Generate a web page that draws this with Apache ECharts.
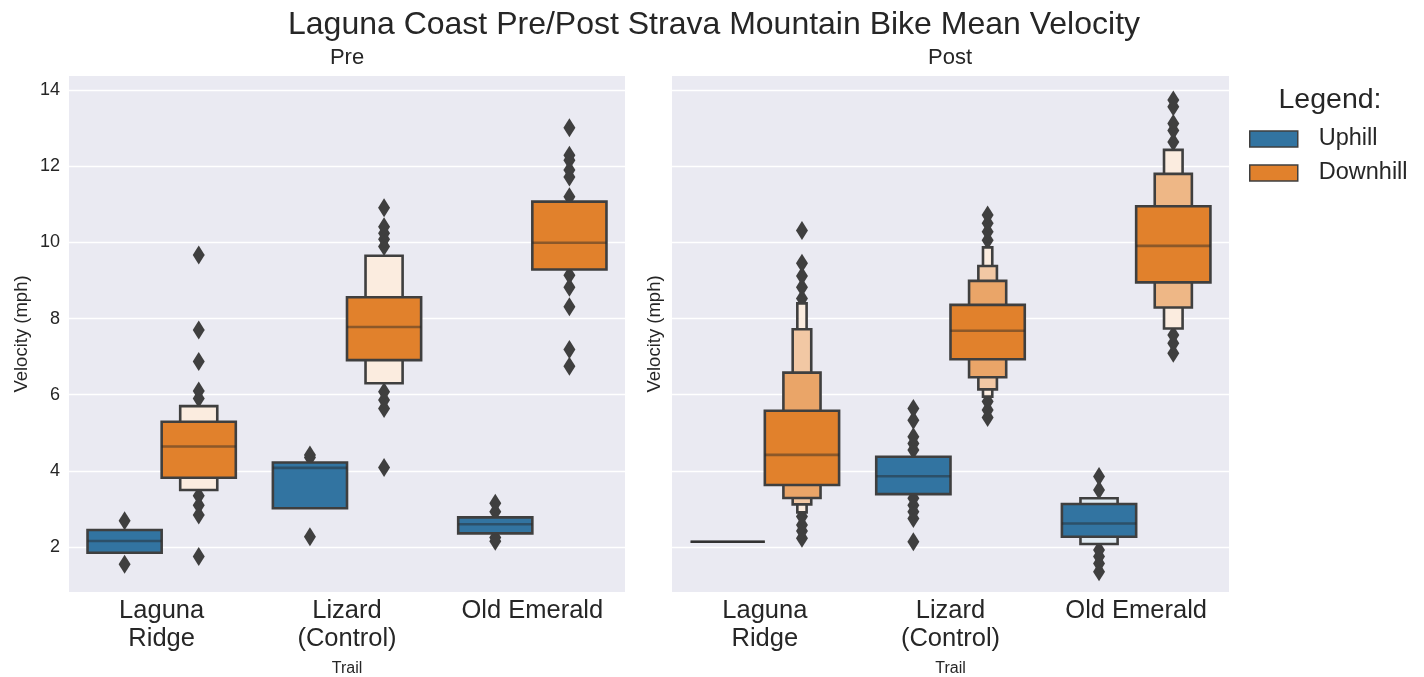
<!DOCTYPE html>
<html>
<head>
<meta charset="utf-8">
<script src="https://cdn.jsdelivr.net/npm/echarts@6/dist/echarts.min.js"></script>
<style>
  html, body { margin: 0; padding: 0; background: #fff; }
  #chart { width: 1424px; height: 677px; }
</style>
</head>
<body>
<div id="chart"></div>
<script>
const trails = ['Laguna\nRidge', 'Lizard\n(Control)', 'Old Emerald']
const hues = ['Uphill', 'Downhill']

// letter-value boxes per trail, innermost first: [low, high]
const preUphillBoxes = [
  [[1.85, 2.45]],
  [[3.02, 4.22]],
  [[2.36, 2.78]],
]
const preUphillMedians = [2.16, 4.08, 2.60]
const preUphillOutliers = [[1.55, 2.69], [2.27, 4.35, 4.42], [2.15, 2.25, 2.93, 3.15]]

const preDownhillBoxes = [
  [[3.82, 5.29], [3.50, 5.70]],
  [[6.91, 8.56], [6.30, 9.65]],
  [[9.29, 11.07]],
]
const preDownhillMedians = [4.64, 7.78, 9.99]
const preDownhillOutliers = [
  [1.75, 2.84, 3.10, 3.35, 5.90, 6.10, 6.87, 7.70, 9.67],
  [4.09, 5.64, 5.86, 6.08, 9.89, 10.08, 10.24, 10.41, 10.91],
  [6.75, 7.19, 8.31, 8.82, 9.14, 11.20, 11.72, 11.90, 12.16, 12.29, 13.01],
]

const postUphillBoxes = [
  [[2.14, 2.14]],
  [[3.39, 4.37]],
  [[2.27, 3.13], [2.08, 3.28]],
]
const postUphillMedians = [2.14, 3.86, 2.62]
const postUphillOutliers = [
  [],
  [2.14, 2.75, 2.93, 3.10, 3.28, 4.55, 4.72, 4.90, 5.33, 5.64],
  [1.35, 1.57, 1.75, 1.92, 3.50, 3.85],
]

const postDownhillBoxes = [
  [[3.63, 5.58], [3.29, 6.58], [3.12, 7.72], [2.91, 8.40]],
  [[6.93, 8.36], [6.46, 8.99], [6.14, 9.38], [5.95, 9.87]],
  [[8.95, 10.95], [8.29, 11.80], [7.74, 12.43]],
]
const postDownhillMedians = [4.42, 7.68, 9.91]
const postDownhillOutliers = [
  [2.23, 2.42, 2.58, 2.80, 8.53, 8.82, 9.12, 9.45, 10.31],
  [5.40, 5.60, 5.82, 10.06, 10.28, 10.50, 10.72],
  [7.09, 7.35, 7.57, 12.64, 12.94, 13.12, 13.56, 13.74],
]

const FONT = '"Liberation Sans", Arial, sans-serif'
const TEXT = '#262626'
const GRAY = '#3f3f3f'
const hueColors = [[50, 116, 161], [225, 129, 44]]

// lighter shade for outer letter-value boxes
function levelColor(rgb, level, n) {
  const t = n > 1 ? (0.85 * level) / (n - 1) : 0
  const c = rgb.map((v) => Math.round(v + (255 - v) * t))
  return `rgb(${c[0]},${c[1]},${c[2]})`
}

function hueShift(hue) {
  return hue === 0 ? -0.2 : 0.2
}

function boxSeries(panel, hue, boxes) {
  const data = []
  boxes.forEach((levels, trail) => {
    for (let k = levels.length - 1; k >= 0; k--) {
      data.push([trail, k, levels[k][0], levels[k][1], levels.length])
    }
  })
  return {
    type: 'custom',
    name: hues[hue],
    xAxisIndex: panel,
    yAxisIndex: panel,
    z: 3,
    itemStyle: { color: levelColor(hueColors[hue], 0, 1) },
    renderItem: (params, api) => {
      const trail = api.value(0)
      const level = api.value(1)
      const lo = api.coord([trail, api.value(2)])
      const hi = api.coord([trail, api.value(3)])
      const band = api.size([1, 0])[0]
      const w = band * 0.4 * Math.pow(0.5, level)
      const cx = lo[0] + hueShift(hue) * band
      return {
        type: 'rect',
        shape: { x: cx - w / 2, y: hi[1], width: w, height: lo[1] - hi[1] },
        style: {
          fill: levelColor(hueColors[hue], level, api.value(4)),
          stroke: GRAY,
          lineWidth: 2.6,
        },
      }
    },
    data: data,
  }
}

function medianSeries(panel, hue, medians) {
  return {
    type: 'custom',
    name: hues[hue] + ' median',
    xAxisIndex: panel,
    yAxisIndex: panel,
    z: 4,
    renderItem: (params, api) => {
      const p = api.coord([api.value(0), api.value(1)])
      const band = api.size([1, 0])[0]
      const cx = p[0] + hueShift(hue) * band
      return {
        type: 'line',
        shape: { x1: cx - band * 0.2, y1: p[1], x2: cx + band * 0.2, y2: p[1] },
        style: { stroke: 'rgba(38,38,38,0.45)', lineWidth: 2.6 },
      }
    },
    data: medians.map((m, i) => [i, m]),
  }
}

function outlierSeries(panel, hue, outliers) {
  const data = []
  outliers.forEach((vals, trail) => vals.forEach((v) => data.push([trail, v])))
  return {
    type: 'custom',
    name: hues[hue] + ' outliers',
    xAxisIndex: panel,
    yAxisIndex: panel,
    z: 2,
    renderItem: (params, api) => {
      const p = api.coord([api.value(0), api.value(1)])
      const band = api.size([1, 0])[0]
      const cx = p[0] + hueShift(hue) * band
      return {
        type: 'polygon',
        shape: { points: [[cx, p[1] - 9.5], [cx + 6, p[1]], [cx, p[1] + 9.5], [cx - 6, p[1]]] },
        style: { fill: GRAY },
      }
    },
    data: data,
  }
}

function xAxis(idx) {
  return {
    type: 'category',
    gridIndex: idx,
    data: trails,
    name: 'Trail',
    nameLocation: 'middle',
    nameGap: 69,
    nameTextStyle: { fontSize: 16, color: TEXT, fontFamily: FONT },
    axisLine: { show: false },
    axisTick: { show: false },
    splitLine: { show: false },
    axisLabel: { fontSize: 25.5, lineHeight: 28, color: TEXT, fontFamily: FONT, margin: 5 },
  }
}

function yAxis(idx, showLabels, nameGap) {
  return {
    type: 'value',
    gridIndex: idx,
    min: 0.82,
    max: 14.37,
    splitNumber: 7,
    name: 'Velocity (mph)',
    nameLocation: 'middle',
    nameGap: nameGap,
    nameTextStyle: { fontSize: 18.5, color: TEXT, fontFamily: FONT },
    axisLine: { show: false },
    axisTick: { show: false },
    axisLabel: {
      show: showLabels,
      showMinLabel: false,
      showMaxLabel: false,
      fontSize: 18,
      color: TEXT,
      fontFamily: FONT,
      margin: 9,
    },
    splitLine: {
      show: true,
      showMinLine: false,
      showMaxLine: false,
      lineStyle: { color: '#ffffff', width: 1.4 },
    },
  }
}

function label(text, x, y, size) {
  return {
    type: 'text',
    x: x,
    y: y,
    style: { text: text, fontSize: size, fontFamily: FONT, fill: TEXT, align: 'center', verticalAlign: 'middle' },
  }
}

const chart = echarts.init(document.getElementById('chart'))
chart.setOption({
  animation: false,
  backgroundColor: '#ffffff',
  grid: [
    { left: 69, top: 76, width: 556, height: 516, outerBoundsMode: 'none', show: true, backgroundColor: '#eaeaf2', borderWidth: 0 },
    { left: 672, top: 76, width: 557, height: 516, outerBoundsMode: 'none', show: true, backgroundColor: '#eaeaf2', borderWidth: 0 },
  ],
  xAxis: [xAxis(0), xAxis(1)],
  yAxis: [yAxis(0, true, 38), yAxis(1, false, 8)],
  legend: {
    data: hues,
    orient: 'vertical',
    left: 1244,
    top: 122,
    icon: 'rect',
    itemWidth: 48,
    itemHeight: 16,
    itemGap: 10,
    itemStyle: { borderColor: GRAY, borderWidth: 1.5 },
    textStyle: { fontSize: 23.5, lineHeight: 23, color: TEXT, fontFamily: FONT, padding: [0, 0, 0, 16] },
  },
  graphic: [
    label('Laguna Coast Pre/Post Strava Mountain Bike Mean Velocity', 714, 25, 32),
    label('Pre', 347, 58, 22),
    label('Post', 950, 58, 22),
    label('Legend:', 1330, 100, 28.5),
  ],
  series: [
    outlierSeries(0, 0, preUphillOutliers),
    outlierSeries(0, 1, preDownhillOutliers),
    outlierSeries(1, 0, postUphillOutliers),
    outlierSeries(1, 1, postDownhillOutliers),
    boxSeries(0, 0, preUphillBoxes),
    boxSeries(0, 1, preDownhillBoxes),
    boxSeries(1, 0, postUphillBoxes),
    boxSeries(1, 1, postDownhillBoxes),
    medianSeries(0, 0, preUphillMedians),
    medianSeries(0, 1, preDownhillMedians),
    medianSeries(1, 0, postUphillMedians),
    medianSeries(1, 1, postDownhillMedians),
  ],
})
</script>
</body>
</html>
